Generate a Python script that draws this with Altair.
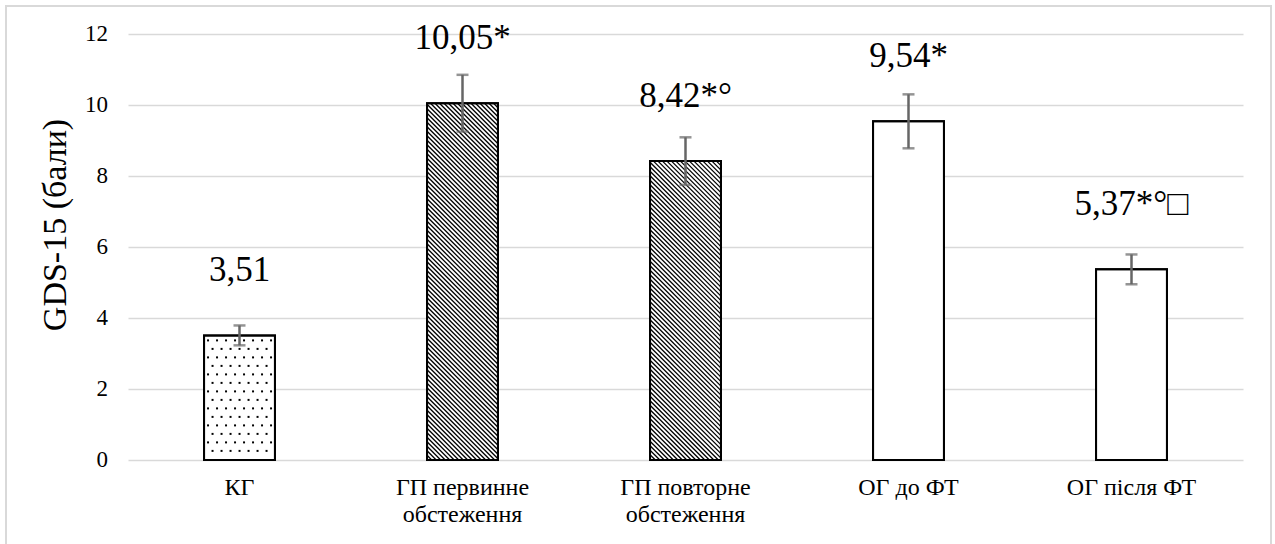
import altair as alt
import pandas as pd

# ---- data ----
category_lines = [["КГ"], ["ГП первинне", "обстеження"], ["ГП повторне", "обстеження"],
                  ["ОГ до ФТ"], ["ОГ після ФТ"]]
values = [3.51, 10.05, 8.42, 9.54, 5.37]
errors = [0.28, 0.80, 0.67, 0.76, 0.42]
value_labels = ["3,51", "10,05*", "8,42*°", "9,54*", "5,37*°□"]
patterns = ["dots", "hatch", "hatch", "none", "none"]
y_ticks = [0, 2, 4, 6, 8, 10, 12]
y_title = "GDS-15 (бали)"

# ---- layout ----
W, H = 1115, 426
HALF = 0.159            # half bar width in category units
PX_X = W / len(values)  # pixels per category unit
PX_Y = H / 12           # pixels per y unit
FONT = "Liberation Serif"

bars = pd.DataFrame({
    "i": list(range(len(values))),
    "v": values,
    "lo": [v - e for v, e in zip(values, errors)],
    "hi": [v + e for v, e in zip(values, errors)],
    "label": value_labels,
    "cat": ["\n".join(c) for c in category_lines],
})
bars["x0"] = bars["i"] + 0.5 - HALF
bars["x1"] = bars["i"] + 0.5 + HALF
bars["xc"] = bars["i"] + 0.5

ticks = pd.DataFrame({"t": y_ticks})

# ---- fill textures derived from the bars ----
hatch_rows, dot_rows = [], []
bw = 2 * HALF * PX_X
for i, (v, p) in enumerate(zip(values, patterns)):
    x0 = i + 0.5 - HALF
    bh = v * PX_Y
    if p == "hatch":
        c = -bw
        while c < bh:
            u0 = max(0.0, -c)
            u1 = min(bw, bh - c)
            if u1 > u0:
                hatch_rows.append({"x": x0 + u0 / PX_X, "y": v - (u0 + c) / PX_Y,
                                   "x2": x0 + u1 / PX_X, "y2": v - (u1 + c) / PX_Y})
            c += 4.5
    elif p == "dots":
        r = 0
        w = 5.0
        while w < bh - 2:
            u = 4.0 + (r % 2) * 4.5
            while u < bw - 2:
                dot_rows.append({"x": x0 + u / PX_X, "y": v - w / PX_Y})
                u += 9
            w += 8.5
            r += 1
hatch = pd.DataFrame(hatch_rows)
dots = pd.DataFrame(dot_rows)

xscale = alt.Scale(domain=[0, len(values)], nice=False, zero=False)
yscale = alt.Scale(domain=[0, 12], nice=False)

x_axis = alt.Axis(values=[k + 0.5 for k in range(len(values))], labels=False,
                  grid=False, domain=False, ticks=False, title=None)
y_axis = alt.Axis(values=y_ticks, grid=True, gridColor="#d9d9d9", gridWidth=1.5,
                  domain=False, ticks=False, labels=False, title=None)

X = lambda f: alt.X(f, scale=xscale, axis=x_axis)
Y = lambda f: alt.Y(f, scale=yscale, axis=y_axis)

base = alt.Chart(bars)

bar_layer = base.mark_rect(fill="white", stroke="black", strokeWidth=2).encode(
    x=X("x0:Q"), x2="x1:Q", y=Y("v:Q"), y2=alt.datum(0))

hatch_layer = alt.Chart(hatch).mark_rule(color="black", strokeWidth=1.3).encode(
    x=X("x:Q"), y=Y("y:Q"), x2="x2:Q", y2="y2:Q")

dot_layer = alt.Chart(dots).mark_square(color="black", size=4, opacity=1).encode(
    x=X("x:Q"), y=Y("y:Q"))

outline = base.mark_rect(fill=None, stroke="black", strokeWidth=2).encode(
    x=X("x0:Q"), x2="x1:Q", y=Y("v:Q"), y2=alt.datum(0))

err_rule = base.mark_rule(color="#666666", strokeWidth=2.5).encode(
    x=X("xc:Q"), y=Y("lo:Q"), y2="hi:Q")
cap_hi = base.mark_tick(color="#666666", orient="horizontal", size=12, thickness=2.5).encode(
    x=X("xc:Q"), y=Y("hi:Q"))
cap_lo = base.mark_tick(color="#666666", orient="horizontal", size=12, thickness=2.5).encode(
    x=X("xc:Q"), y=Y("lo:Q"))

text_layer = base.mark_text(font=FONT, fontSize=35, color="black", dy=-65,
                            baseline="middle", align="center").encode(
    x=X("xc:Q"), y=Y("v:Q"), text="label:N")

# axis texts drawn as text marks so the serif face is used
cat_layer = base.mark_text(font=FONT, fontSize=24, color="black", baseline="top",
                           align="center", lineBreak="\n", lineHeight=27).encode(
    x=X("xc:Q"), y=alt.value(H + 16), text="cat:N")

tick_layer = alt.Chart(ticks).mark_text(font=FONT, fontSize=23, color="black",
                                        align="right", baseline="middle").encode(
    x=alt.value(-20), y=Y("t:Q"), text="t:Q")

title_layer = alt.Chart(pd.DataFrame({"t": [y_title]})).mark_text(
    font=FONT, fontSize=34, color="black", angle=270, align="center",
    baseline="middle").encode(x=alt.value(-72), y=alt.value(H / 2 - 22), text="t:N")

frame = base.mark_rect(fill=None, stroke="#d9d9d9", strokeWidth=1.5).encode(
    x=alt.value(-122), x2=alt.value(W + 28), y=alt.value(-28), y2=alt.value(H + 120))

chart = alt.layer(frame, bar_layer, hatch_layer, dot_layer, outline,
                  err_rule, cap_hi, cap_lo, text_layer, cat_layer, tick_layer,
                  title_layer).properties(
    width=W, height=H,
    autosize=alt.AutoSizeParams(type="none"),
    padding={"left": 128, "top": 34, "right": 32, "bottom": 84},
).configure(background="white").configure_view(stroke=None)

chart.save("out.html", embed_options={"renderer": "svg", "actions": False})
